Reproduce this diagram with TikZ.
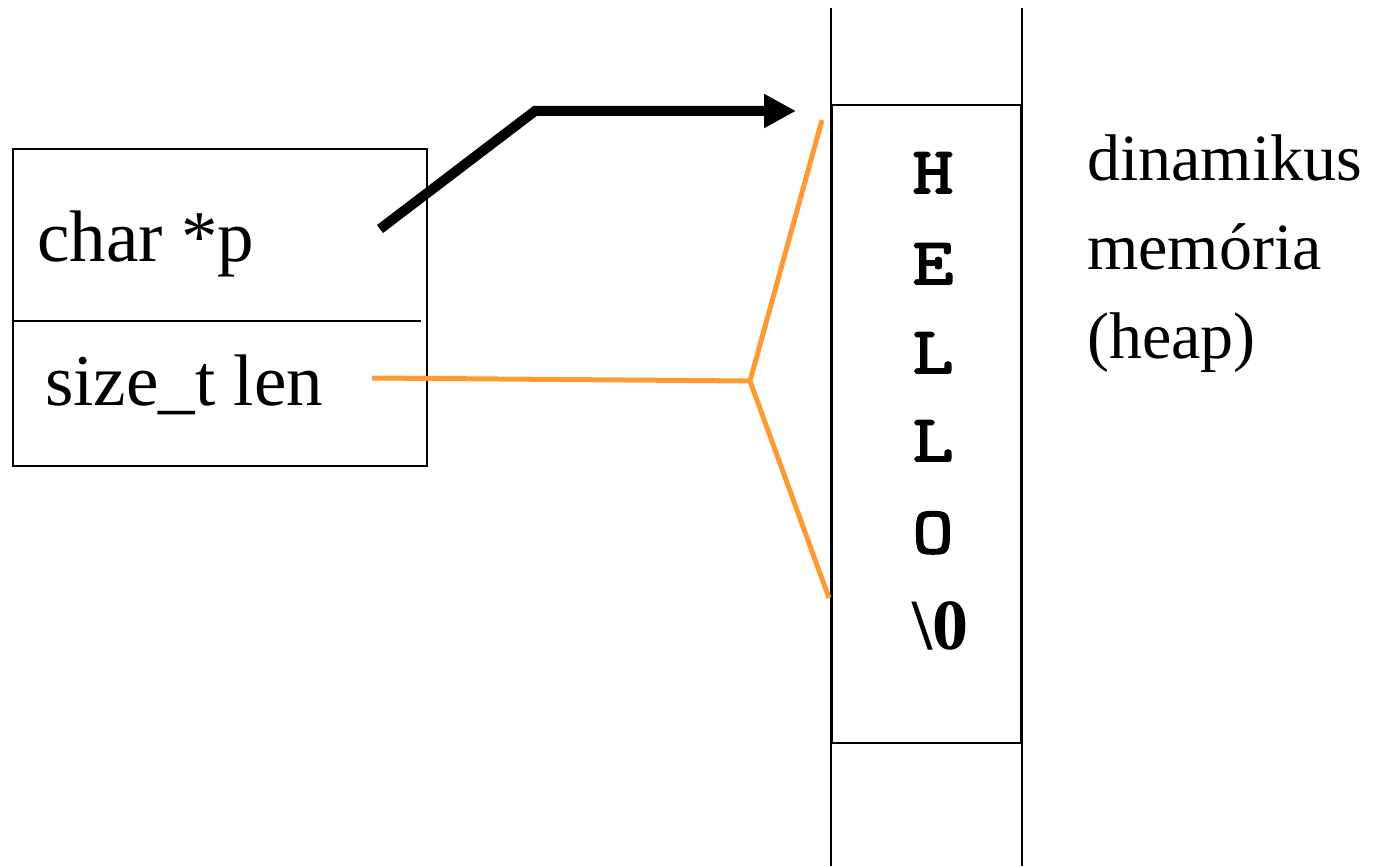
\documentclass[tikz,border=0pt]{standalone}
\usepackage{fontspec}
\setmainfont{Liberation Serif}
\newfontfamily\codefont{Latin Modern Mono}[FakeBold=3,FakeStretch=1.2]
\usetikzlibrary{arrows.meta}
\definecolor{lenorange}{HTML}{FF9933}
\begin{document}
\begin{tikzpicture}[x=1pt,y=-1pt,
  frame/.style={line width=2pt},
  label/.style={inner sep=0pt,anchor=base west,font=\fontsize{73}{86}\selectfont},
  caption/.style={inner sep=0pt,anchor=base west,font=\fontsize{66}{80}\selectfont},
  cell/.style={inner sep=0pt,anchor=base,font=\codefont\fontsize{66}{70}\selectfont},
  ptr/.style={line width=10pt,-{Triangle[length=32pt,width=32pt]}},
  lenline/.style={lenorange,line width=5pt}]
\useasboundingbox (0,0) rectangle (1397,866);

% struct with the two fields
\node[draw,frame,minimum width=414pt,minimum height=317pt,anchor=north west,inner sep=0pt] (rec) at (12,148) {};
\draw[frame] (12,321) -- (421,321);
\node[label] (fp) at (37,262) {char *p};
\node[label] (fl) at (45,405) {size\_t len};

% heap column
\draw[frame] (831,8) -- (831,866);
\draw[frame] (1022,8) -- (1022,866);
\node[draw,frame,minimum width=189pt,minimum height=638pt,anchor=north west,inner sep=0pt] (blk) at (831,104) {};

% characters of the string
\node[cell] (c1) at (933,193) {H};
\node[cell] (c2) at (933,284) {E};
\node[cell] (c3) at (933,373) {L};
\node[cell] (c4) at (933,461) {L};
\node[cell] (c5) at (933,553) {O};
\node[inner sep=0pt,anchor=base,font=\bfseries\fontsize{72}{86}\selectfont] (c6) at (940,649) {\textbackslash 0};

% caption of the heap
\node[caption] (cap1) at (1087,181) {dinamikus};
\node[caption] (cap2) at (1087,270) {memória};
\node[caption] (cap3) at (1087,359) {(heap)};

% pointer p
\coordinate (ps) at (380,229);
\coordinate (pk) at (535,111);
\coordinate (pe) at (796,111);
\draw[ptr] (ps) -- (pk) -- (pe);

% length marker
\coordinate (ls) at (372,378);
\coordinate (lm) at (750,381);
\coordinate (lt) at (822,120);
\coordinate (lb) at (829,598);
\draw[lenline] (ls) -- (lm);
\draw[lenline] (lt) -- (lm) -- (lb);
\end{tikzpicture}
\end{document}
